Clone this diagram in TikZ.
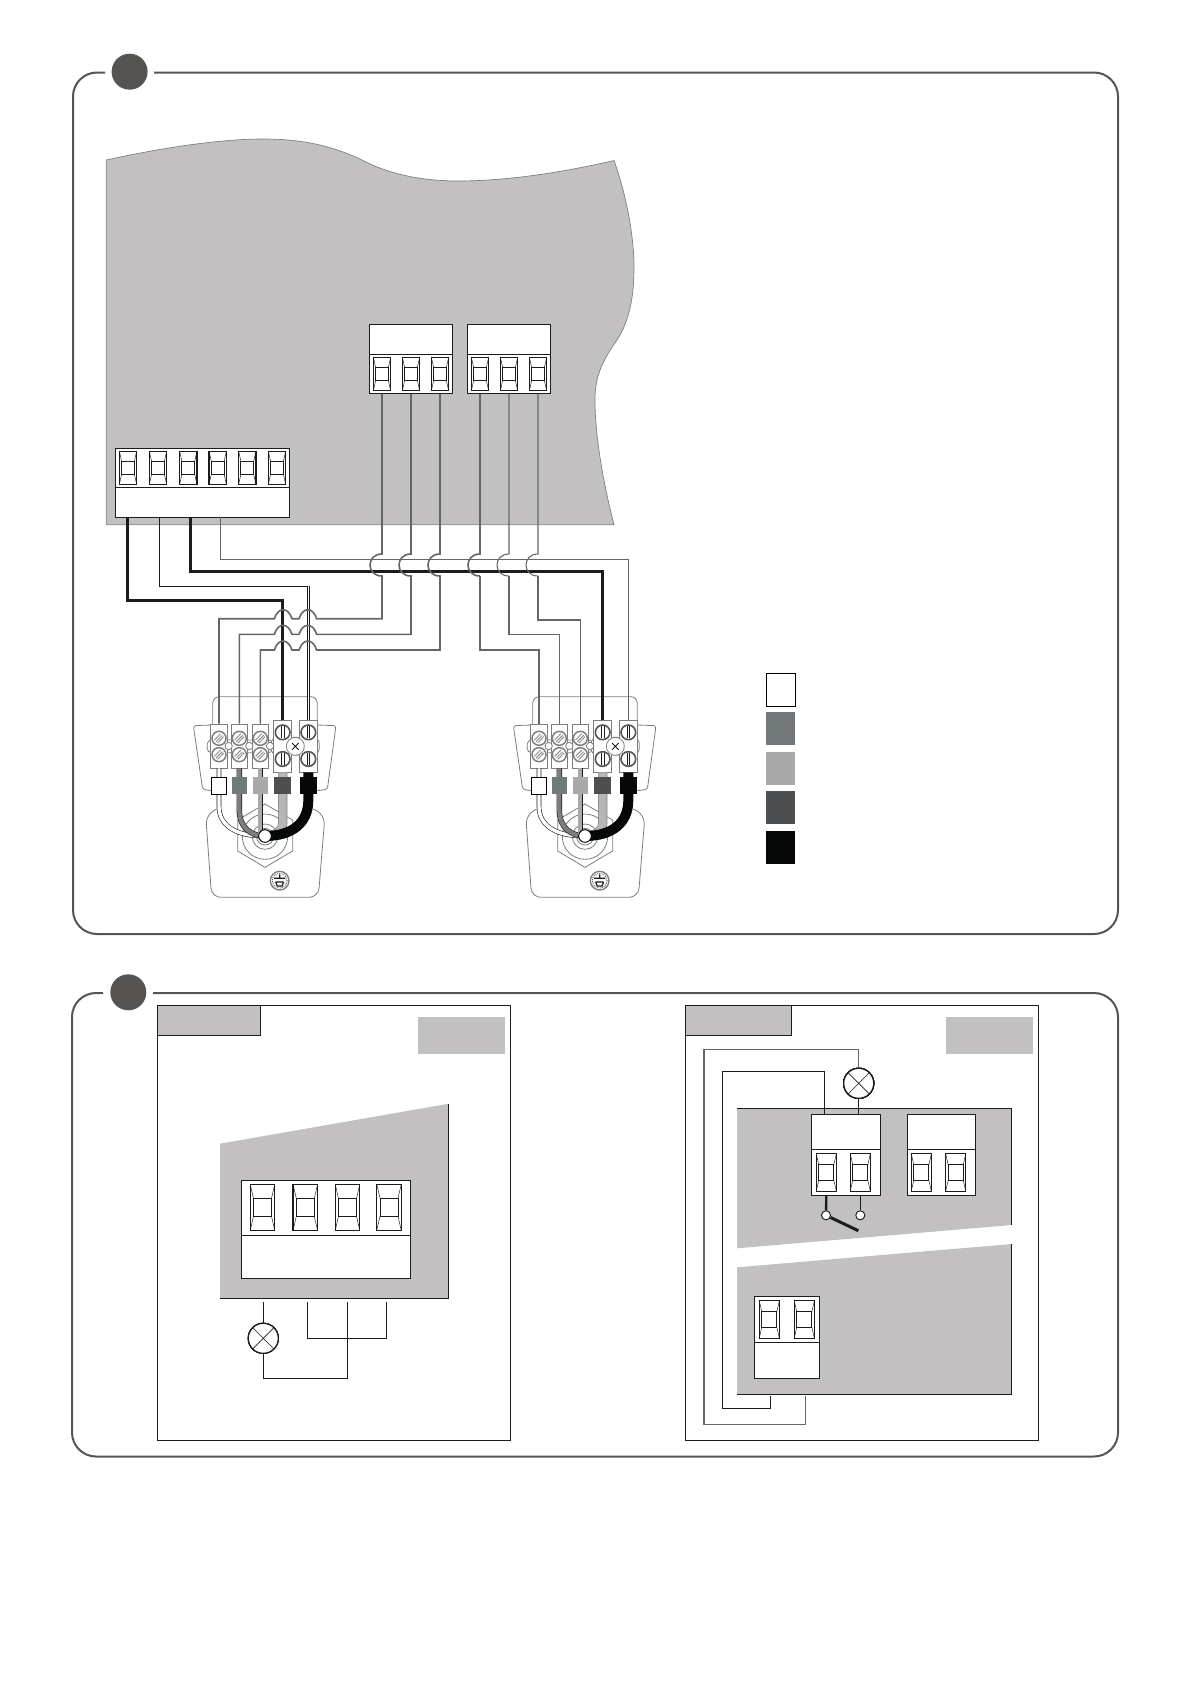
\documentclass[tikz,border=0pt]{standalone}
\definecolor{boardgray}{RGB}{194,192,193}
\definecolor{panelgray}{RGB}{85,84,82}
\definecolor{wiregray}{RGB}{102,102,102}
\definecolor{wiredark}{RGB}{28,28,28}
\definecolor{capgray}{RGB}{115,120,122}
\definecolor{caplight}{RGB}{168,169,168}
\definecolor{capdark}{RGB}{77,78,80}
\definecolor{capblack}{RGB}{6,8,7}
\definecolor{clampgray}{RGB}{125,125,125}
\tikzset{
  panelline/.style={draw=panelgray,line width=1.5pt,rounded corners=18pt},
  bullet/.style={circle,fill=panelgray,minimum size=27pt,inner sep=0pt},
  boardfill/.style={fill=boardgray,draw=none},
  boardedge/.style={draw=wiredark,line width=.8pt},
  blockbox/.style={rectangle,draw=wiredark,fill=white,line width=.8pt,inner sep=0pt},
  termbox/.style={rectangle,draw=wiredark,fill=white,line width=.9pt,inner sep=0pt},
  termline/.style={draw=wiredark,line width=.35pt},
  thinwire/.style={draw=wiredark,line width=.8pt},
  wire/.style={draw=wiregray,line width=1.2pt},
  wirethin/.style={draw=wiregray,line width=.8pt},
  wirebold/.style={draw=wiredark,line width=2.25pt},
  lamp/.style={circle,draw=wiredark,fill=white,line width=.9pt,minimum size=22.5pt,inner sep=0pt,
    path picture={\draw[line width=.45pt,draw=wiredark]
      (path picture bounding box.north west) -- (path picture bounding box.south east)
      (path picture bounding box.north east) -- (path picture bounding box.south west);}},
  contact/.style={circle,draw=wiredark,fill=white,line width=.7pt,minimum size=6.8pt,inner sep=0pt},
  swatch/.style={rectangle,inner sep=0pt,minimum width=21.75pt,minimum height=24.75pt},
  clampline/.style={draw=clampgray,line width=.6pt},
  clampbox/.style={rectangle,draw=clampgray,fill=white,line width=.6pt,inner sep=0pt},
  coretube/.style={draw=wiredark,line width=.45pt,double=#1,double distance=2.6pt},
  clamp/.pic={
    %Shape: Cover
    \draw[clampline,rounded corners=5pt] (128,195) -- (128,110) -- (442,110) -- (442,190);
    \draw[clampline,rounded corners=2pt] (125,195) -- (70,197) -- (98,388) -- (124,392);
    \draw[clampline,rounded corners=2pt] (442,195) -- (498,197) -- (472,388) -- (442,392);
    \draw[clampline,rounded corners=7pt] (140,447) -- (107,465) -- (125,712) -- (445,712) -- (465,465) -- (430,447);
    %Shape: Nut
    \draw[clampline,fill=white] (285,432) -- (368,480) -- (368,573) -- (285,622) -- (203,573) -- (203,480) -- cycle;
    \draw[clampline] (285,530) circle (68) (285,530) circle (38) (285,530) circle (25);
    %Shape: Bridges
    \draw[clampline,fill=white,rounded corners=3pt] (112,240) -- (308,240) -- (308,278) -- (112,278) -- cycle;
    \draw[clampline,fill=white,rounded corners=5pt] (303,232) -- (448,232) -- (448,285) -- (303,285) -- cycle;
    \node[clampbox,minimum width=12.25pt,minimum height=33.25pt] (-in1) at (147,258.5) {};
    \node[clampbox,minimum width=12.25pt,minimum height=33.25pt] (-in2) at (208,258.5) {};
    \node[clampbox,minimum width=12.25pt,minimum height=33.25pt] (-in3) at (271,258.5) {};
    \node[clampbox,minimum width=13.25pt,minimum height=39.25pt] (-in4) at (338,258.5) {};
    \node[clampbox,minimum width=13.25pt,minimum height=39.25pt] (-in5) at (415,258.5) {};
    \foreach \cx in {176,238,300}
      \draw[clampline,fill=white] (\cx,258) circle (11);
    \draw[clampline,fill=white] (376,259) circle (27);
    \draw[draw=wiredark,line width=.7pt] (366,249) -- (386,269) (386,249) -- (366,269);
    %Shape: Screws
    \foreach \cx in {147,208,271}
      \foreach \cy in {235,284}{
        \draw[clampline,line width=1.1pt,fill=white] (\cx,\cy) circle (21);
        \draw[clampline,line width=.6pt] (\cx-14,\cy+5) -- (\cx+5,\cy-14) (\cx-9,\cy+10) -- (\cx+10,\cy-9) (\cx-4,\cy+14) -- (\cx+14,\cy-5);
      }
    \foreach \cx in {338,415}
      \foreach \cy in {217,297}{
        \draw[draw=panelgray,line width=1.2pt,fill=white] (\cx,\cy) circle (22);
        \draw[draw=wiredark,line width=.6pt] (\cx-4,\cy-18) -- (\cx-4,\cy+18) (\cx+4,\cy-18) -- (\cx+4,\cy+18);
      }
    %Shape: Cores
    \draw[coretube=white] (147,325) -- (147,440) .. controls (147,500) and (205,530) .. (285,528);
    \draw[coretube=clampgray,double distance=3.2pt] (208,325) -- (208,450) .. controls (208,505) and (245,528) .. (285,528);
    \draw[coretube=caplight,double distance=3.2pt] (271,325) -- (271,528);
    \draw[coretube=caplight!85!white,draw=clampgray,double distance=6pt] (338,337) -- (338,490) .. controls (338,515) and (310,528) .. (285,528);
    \draw[draw=capblack,line width=7.5pt] (415,337) -- (415,420) .. controls (415,490) and (365,528) .. (285,528);
    \node[swatch,draw=black,fill=white,line width=.7pt,minimum width=11.5pt,minimum height=12.75pt] (-cap1) at (147,377.5) {};
    \node[swatch,fill=capgray,minimum width=11.5pt,minimum height=12.75pt] (-cap2) at (209,377) {};
    \node[swatch,fill=caplight,minimum width=11.5pt,minimum height=12.75pt] (-cap3) at (272,377) {};
    \node[swatch,fill=capdark,minimum width=12.5pt,minimum height=12.75pt] (-cap4) at (337,377) {};
    \node[swatch,fill=capblack,minimum width=12.75pt,minimum height=12.75pt] (-cap5) at (415.5,377) {};
    \draw[draw=black,line width=.7pt,fill=white] (285,528) circle (19);
    %Shape: Earth
    \draw[clampline,line width=1pt,fill=white] (329,662) circle (28);
    \draw[draw=wiredark,line width=.6pt,densely dotted] (329,662) circle (22);
    \draw[draw=wiredark,line width=.9pt] (329,643) -- (329,655) (312,655) -- (346,655) (317,666) -- (341,666) (317,666) -- (322,678) -- (336,678) -- (341,666);
  }
}
% name, centre x, centre y, width, height
\newcommand{\termpart}[5]{%
  \node[termbox,minimum width=#4*.75pt,minimum height=#5*.75pt] (#1) at (#2,#3) {};
  \draw[termline] (#2-.5*#4,#3-.5*#5) -- (#2-.37*#4,#3-.2*#5) (#2+.5*#4,#3-.5*#5) -- (#2+.37*#4,#3-.2*#5)
    (#2-.5*#4,#3+.5*#5) -- (#2-.37*#4,#3+.2*#5) (#2+.5*#4,#3+.5*#5) -- (#2+.37*#4,#3+.2*#5);
  \draw[draw=wiredark,line width=.65pt] (#2-.37*#4,#3-.2*#5) rectangle (#2+.37*#4,#3+.2*#5);
}
\begin{document}
\begin{tikzpicture}[x=0.75pt,y=0.75pt,yscale=-1,xscale=1]
\useasboundingbox (0,0) rectangle (1192,1685);

%Shape: Panel one
\draw [panelline] (105,72.5) -- (73,72.5) -- (73,934) -- (1118,934) -- (1118,72.5) -- (154,72.5);
\node [bullet] (bulletone) at (129.6,71.7) {};
%Shape: Board
\draw [boardfill,draw=clampgray,line width=.5pt] (106.3,160) .. controls (170,146) and (225,139) .. (263,139) .. controls (305,139) and (335,147) .. (362,160) .. controls (390,175) and (425,181) .. (458,181) .. controls (505,181) and (560,173) .. (614,160.5) .. controls (628,200) and (634,240) .. (634,267) .. controls (634,295) and (630,320) .. (617,340) .. controls (603,360) and (595,375) .. (595,400) .. controls (595,440) and (605,490) .. (614,524.7) -- (106.3,524.7) -- cycle;
%Shape: Blocks
\node [blockbox,minimum width=62.25pt,minimum height=51.75pt] (blocka) at (410.8,358.8) {};
\node [blockbox,minimum width=62.25pt,minimum height=51.75pt] (blockb) at (508.8,358.8) {};
\node [blockbox,minimum width=130.5pt,minimum height=51.75pt] (blockc) at (202.3,482.8) {};
\draw [boardedge] (blocka.west |- 0,354.3) -- (blocka.east |- 0,354.3);
\draw [boardedge] (blockb.west |- 0,354.3) -- (blockb.east |- 0,354.3);
\draw [boardedge] (blockc.west |- 0,487.3) -- (blockc.east |- 0,487.3);
\foreach \nam/\cx in {a1/382,a2/411,a3/440,b1/480,b2/509,b3/538}
  \termpart{\nam}{\cx}{374}{17.3}{33.4}
\foreach \nam/\cx in {c1/128,c2/158,c3/188.3,c4/217.7,c5/247.3,c6/277}
  \termpart{\nam}{\cx}{467.8}{17.3}{33}
\coordinate (cout1) at (127.3,517.3);
\coordinate (cout2) at (159.3,517.3);
\coordinate (cout3) at (190,517.3);
\coordinate (cout4) at (220.3,517.3);
%Shape: Clamps
\pic [scale=1/3,yscale=-1] (l) at (170,660) {clamp};
\pic [scale=1/3,yscale=-1] (r) at (490,660) {clamp};
%Shape: Wires
\draw [wirethin] (cout4) |- (r-in5 |- 0,559.3) -- (r-in5.north);
\draw [wirebold] (cout3) |- (r-in4 |- 0,571.3) -- (r-in4.north);
\draw [thinwire,line width=.7pt] (cout2) |- (l-in5 |- 0,586.3);
\draw [draw=wiredark,line width=.4pt,double=white,double distance=1pt] (l-in5 |- 0,586.3) -- (l-in5.north);
\draw [wirebold] (cout1) |- (l-in4 |- 0,600.3) -- (l-in4.north);
\foreach \w/\yb/\i in {a1/618.7/1,a2/634.3/2,a3/650/3}
  \draw [wire] (\w |- blocka.south) -- (\w |- 0,554) .. controls +(-16,0) and +(-16,0) .. (\w |- 0,576) |- (316.7,\yb) .. controls +(-4,-12) and +(4,-12) .. (299,\yb) -- (292,\yb) .. controls +(-4,-12) and +(4,-12) .. (274.3,\yb) -| (l-in\i.north);
\foreach \w/\yb/\i/\st in {b1/650/1/wire,b2/634.3/2/wirethin,b3/620/3/wirethin}{
  \draw [\st] (\w |- blockb.south) -- (\w |- 0,554) .. controls +(-16,0) and +(-16,0) .. (\w |- 0,576);
  \draw [wire] (\w |- 0,576) |- (r-in\i |- 0,\yb) -- (r-in\i.north);
}
%Shape: Legend
\node [swatch,draw=black,fill=white,line width=.9pt] (keywhite) at (781,690) {};
\node [swatch,fill=capgray] (keygray) at (780.5,728.5) {};
\node [swatch,fill=caplight] (keylight) at (780.5,768.5) {};
\node [swatch,fill=capdark] (keydark) at (780.5,807.5) {};
\node [swatch,fill=capblack] (keyblack) at (780.5,847.5) {};

%Shape: Panel two
\draw [panelline] (103,993) -- (72,993) -- (72,1456.5) -- (1118,1456.5) -- (1118,993) -- (153,993);
\node [bullet] (bullettwo) at (128.3,992.3) {};
%Shape: Left frame
\draw [boardedge] (157.3,1005.3) rectangle (510.3,1440.3);
\draw [boardedge,fill=boardgray] (157.3,1005.3) rectangle (260.7,1035.3);
\fill [boardgray] (418,1017) rectangle (505,1053.7);
\fill [boardgray] (220,1143.7) -- (448.7,1103.7) -- (448.7,1298.3) -- (220,1298.3) -- cycle;
\draw [boardedge] (448.7,1103.7) -- (448.7,1298.3) -- (220,1298.3);
\node [blockbox,minimum width=126.75pt,minimum height=73.5pt] (blockd) at (325.8,1229.3) {};
\draw [boardedge] (blockd.west |- 0,1235.3) -- (blockd.east |- 0,1235.3);
\foreach \nam/\cx in {d1/262.5,d2/305.3,d3/347.5,d4/389}
  \termpart{\nam}{\cx}{1207.3}{24.5}{46}
\node [lamp] (lampd) at (263.3,1338.3) {};
\coordinate (dout1) at (263.3,1302);
\coordinate (dout2) at (307.3,1302);
\coordinate (dout3) at (347.3,1302);
\coordinate (dout4) at (386.3,1302);
\draw [thinwire] (dout1) -- (lampd);
\draw [thinwire] (lampd) |- (dout3 |- 0,1378.3) -- (dout3);
\draw [thinwire] (dout2) |- (dout4 |- 0,1338.3) -- (dout4);
%Shape: Right frame
\draw [boardedge] (685.3,1005.3) rectangle (1038.7,1440.3);
\draw [boardedge,fill=boardgray] (685.3,1005.3) rectangle (791.3,1035.3);
\fill [boardgray] (946,1017) rectangle (1033,1053.7);
\fill [boardgray] (737,1108.3) -- (1011.7,1108.3) -- (1011.7,1225) -- (737,1248.3) -- cycle;
\fill [boardgray] (737,1267.3) -- (1011.7,1244) -- (1011.7,1394.3) -- (737,1394.3) -- cycle;
\draw [boardedge] (737,1108.3) -- (1011.7,1108.3) -- (1011.7,1225);
\draw [boardedge] (1011.7,1244) -- (1011.7,1394.3) -- (737,1394.3);
\node [blockbox,minimum width=51.75pt,minimum height=60.75pt] (blocke) at (845.8,1154.8) {};
\node [blockbox,minimum width=51.3pt,minimum height=60.75pt] (blockf) at (941.5,1154.8) {};
\node [blockbox,minimum width=48.75pt,minimum height=61.5pt] (blockg) at (786.8,1337.3) {};
\draw [boardedge] (blocke.west |- 0,1149.3) -- (blocke.east |- 0,1149.3);
\draw [boardedge] (blockf.west |- 0,1149.3) -- (blockf.east |- 0,1149.3);
\draw [boardedge] (blockg.west |- 0,1342.3) -- (blockg.east |- 0,1342.3);
\foreach \nam/\cx in {e1/826.3,e2/860.3,f1/921.3,f2/955.7}
  \termpart{\nam}{\cx}{1172.5}{20.3}{38.3}
\foreach \nam/\cx in {g1/769.3,g2/804.3}
  \termpart{\nam}{\cx}{1319.5}{20.3}{38.3}
\node [lamp] (lampe) at (858.7,1083.3) {};
\coordinate (gout1) at (770.3,1396);
\coordinate (gout2) at (805.7,1396);
\draw [wirethin,line width=.9pt] (gout2) |- (704,1424.3) |- (lampe |- 0,1049.7) -- (lampe);
\draw [thinwire] (lampe) -- (lampe |- blocke.north);
\draw [thinwire] (gout1) |- (722.3,1408.3) |- (824.7,1071.3) -- (824.7,1114.3);
\node [contact] (switcha) at (826,1215.3) {};
\node [contact] (switchb) at (860.3,1215.3) {};
\coordinate (leverend) at (858.3,1230.7);
\draw [wirebold,line width=1.8pt] (e1 |- blocke.south) -- (switcha);
\draw [thinwire] (e2 |- blocke.south) -- (switchb);
\draw [wirebold] (switcha) -- (leverend);
\end{tikzpicture}
\end{document}
